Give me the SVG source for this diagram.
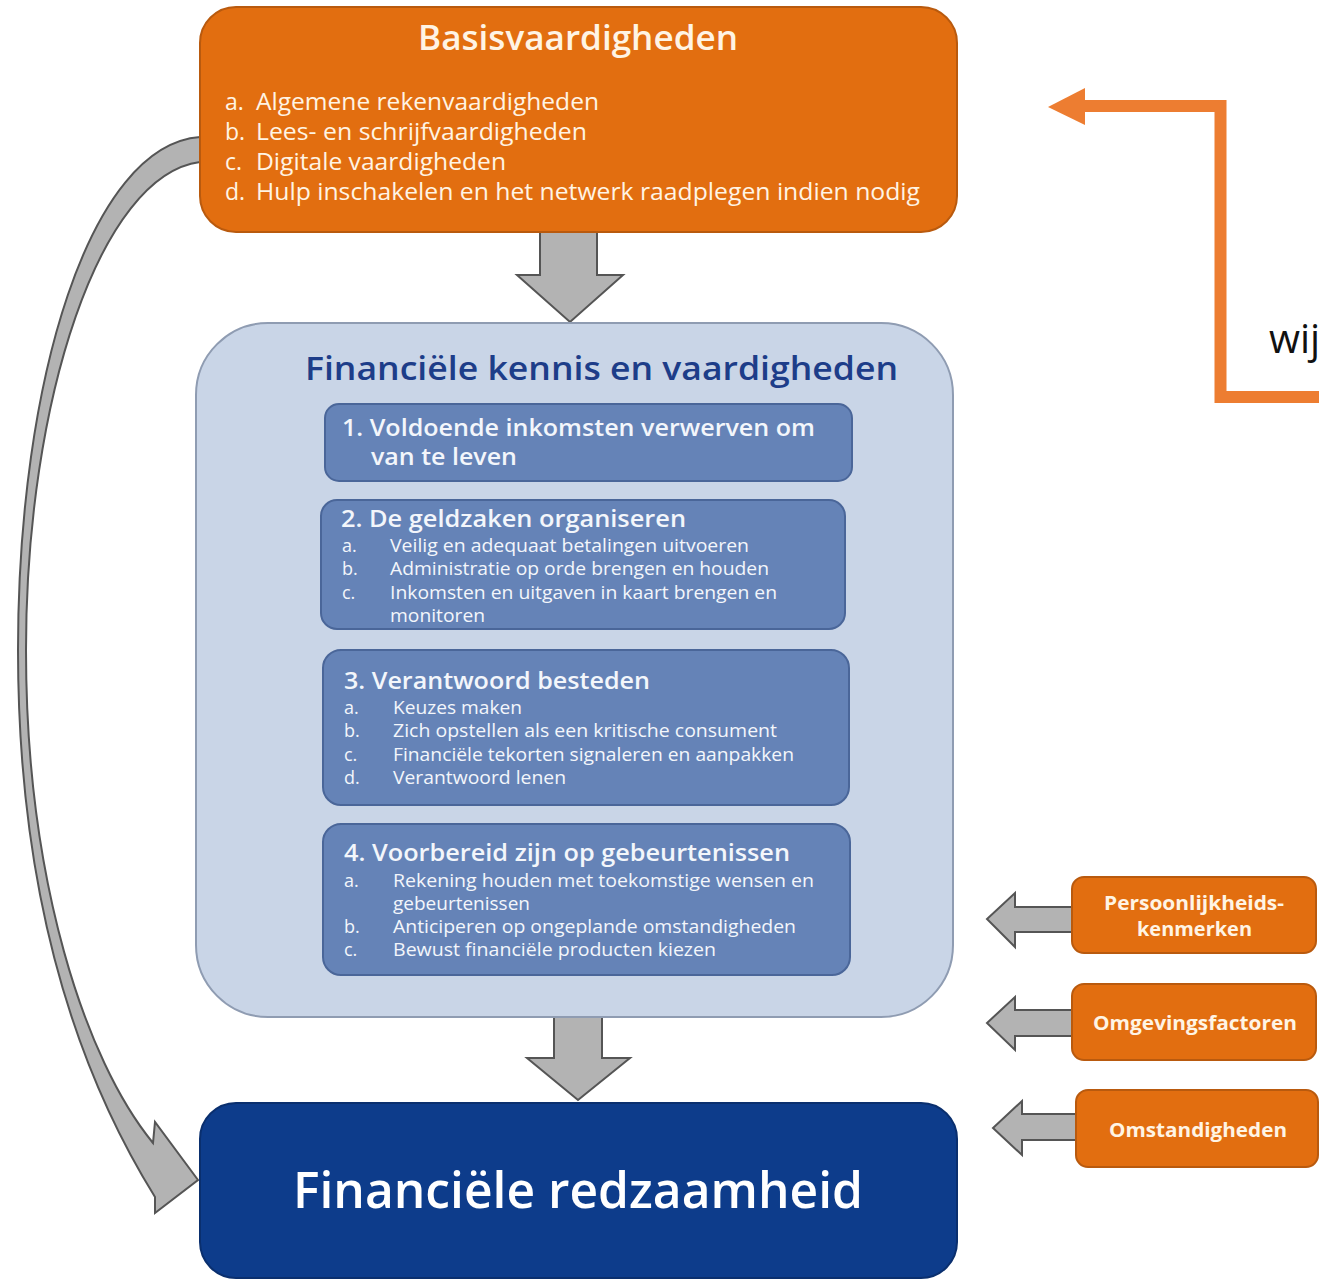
<svg xmlns="http://www.w3.org/2000/svg" width="1319" height="1280" viewBox="0 0 1319 1280">
<style>
.orange{fill:#E26E10;stroke:#B95A0E;stroke-width:2}
.cont{fill:#C9D5E7;stroke:#8F9CB2;stroke-width:2}
.inner{fill:#6583B7;stroke:#4A6699;stroke-width:2}
.dark{fill:#0D3C8B;stroke:#0A2F6E;stroke-width:2}
.garrow{fill:#B3B3B3;stroke:#555555;stroke-width:2;stroke-linejoin:miter}
.t{font-family:"Open Sans","DejaVu Sans",sans-serif}
.wt{fill:#FFF4E4}
.bt{fill:#F3F6FB}
</style>
<g id="connectors">
<path class="garrow" fill="#A8A8A8" d="M200 137 C90 145 18 380 18 650 C18 880 70 1060 155 1197 L155 1213 L198 1180 L155 1122 L153 1143 C85 1060 26 880 26 650 C26 400 100 175 200 162 Z"/>
<path class="garrow" d="M540 232 L597 232 L597 275 L623 275 L570 322 L517 275 L540 275 Z"/>
<path class="garrow" d="M554 1015 L602 1015 L602 1058 L630 1058 L578 1100 L527 1058 L554 1058 Z"/>
<path class="garrow" d="M1072 907 L1015 907 L1015 893 L987 919 L1015 947 L1015 932 L1072 932 Z"/>
<path class="garrow" d="M1072 1010 L1015 1010 L1015 997 L987 1023 L1015 1050 L1015 1036 L1072 1036 Z"/>
<path class="garrow" d="M1076 1114 L1022 1114 L1022 1101 L993 1128 L1022 1155 L1022 1140 L1076 1140 Z"/>
<path d="M1319 397 L1220.5 397 L1220.5 106 L1085 106" fill="none" stroke="#ED7D31" stroke-width="12"/>
<path d="M1085 88 L1048 107 L1085 125 Z" fill="#ED7D31"/>
</g>
<g id="basisvaardigheden">
<rect class="orange" x="200" y="7" width="757" height="225" rx="36"/>
<text class="t wt" x="418" y="50" font-size="34" font-weight="600" textLength="320" lengthAdjust="spacingAndGlyphs">Basisvaardigheden</text>
<g class="t wt" font-size="23">
<text x="225" y="110">a.</text><text x="256" y="110" textLength="343" lengthAdjust="spacingAndGlyphs">Algemene rekenvaardigheden</text>
<text x="225" y="140">b.</text><text x="256" y="140" textLength="331" lengthAdjust="spacingAndGlyphs">Lees- en schrijfvaardigheden</text>
<text x="225" y="170">c.</text><text x="256" y="170" textLength="250" lengthAdjust="spacingAndGlyphs">Digitale vaardigheden</text>
<text x="225" y="200">d.</text><text x="256" y="200" textLength="664" lengthAdjust="spacingAndGlyphs">Hulp inschakelen en het netwerk raadplegen indien nodig</text>
</g>
</g>
<g id="financiele-kennis">
<rect class="cont" x="196" y="323" width="757" height="694" rx="72"/>
<text class="t" x="305" y="380" font-size="33" font-weight="600" fill="#1D3D89" textLength="593" lengthAdjust="spacingAndGlyphs">Financiële kennis en vaardigheden</text>
</g>
<g id="box1">
<rect class="inner" x="325" y="404" width="527" height="77" rx="14"/>
<g class="t bt" font-size="23" font-weight="600">
<text x="342" y="436" textLength="473" lengthAdjust="spacingAndGlyphs">1. Voldoende inkomsten verwerven om</text>
<text x="371" y="465" textLength="146" lengthAdjust="spacingAndGlyphs">van te leven</text>
</g>
</g>
<g id="box2">
<rect class="inner" x="321" y="500" width="524" height="129" rx="16"/>
<text class="t bt" x="341" y="527" font-size="23" font-weight="600" textLength="345" lengthAdjust="spacingAndGlyphs">2. De geldzaken organiseren</text>
<g class="t bt" font-size="18">
<text x="342" y="552">a.</text><text x="390" y="552" textLength="359" lengthAdjust="spacingAndGlyphs">Veilig en adequaat betalingen uitvoeren</text>
<text x="342" y="575">b.</text><text x="390" y="575" textLength="379" lengthAdjust="spacingAndGlyphs">Administratie op orde brengen en houden</text>
<text x="342" y="599">c.</text><text x="390" y="599" textLength="387" lengthAdjust="spacingAndGlyphs">Inkomsten en uitgaven in kaart brengen en</text>
<text x="390" y="622" textLength="95" lengthAdjust="spacingAndGlyphs">monitoren</text>
</g>
</g>
<g id="box3">
<rect class="inner" x="323" y="650" width="526" height="155" rx="18"/>
<text class="t bt" x="344" y="689" font-size="23" font-weight="600" textLength="306" lengthAdjust="spacingAndGlyphs">3. Verantwoord besteden</text>
<g class="t bt" font-size="18">
<text x="344" y="714">a.</text><text x="393" y="714" textLength="129" lengthAdjust="spacingAndGlyphs">Keuzes maken</text>
<text x="344" y="737">b.</text><text x="393" y="737" textLength="384" lengthAdjust="spacingAndGlyphs">Zich opstellen als een kritische consument</text>
<text x="344" y="761">c.</text><text x="393" y="761" textLength="401" lengthAdjust="spacingAndGlyphs">Financiële tekorten signaleren en aanpakken</text>
<text x="344" y="784">d.</text><text x="393" y="784" textLength="173" lengthAdjust="spacingAndGlyphs">Verantwoord lenen</text>
</g>
</g>
<g id="box4">
<rect class="inner" x="323" y="824" width="527" height="151" rx="18"/>
<text class="t bt" x="344" y="861" font-size="23" font-weight="600" textLength="446" lengthAdjust="spacingAndGlyphs">4. Voorbereid zijn op gebeurtenissen</text>
<g class="t bt" font-size="18">
<text x="344" y="887">a.</text><text x="393" y="887" textLength="421" lengthAdjust="spacingAndGlyphs">Rekening houden met toekomstige wensen en</text>
<text x="393" y="910" textLength="137" lengthAdjust="spacingAndGlyphs">gebeurtenissen</text>
<text x="344" y="933">b.</text><text x="393" y="933" textLength="403" lengthAdjust="spacingAndGlyphs">Anticiperen op ongeplande omstandigheden</text>
<text x="344" y="956">c.</text><text x="393" y="956" textLength="323" lengthAdjust="spacingAndGlyphs">Bewust financiële producten kiezen</text>
</g>
</g>
<g id="redzaamheid">
<rect class="dark" x="200" y="1103" width="757" height="175" rx="36"/>
<text class="t" x="293" y="1208" font-size="50" font-weight="600" fill="#FFFFFF" textLength="570" lengthAdjust="spacingAndGlyphs">Financiële redzaamheid</text>
</g>
<g id="persoonlijkheid">
<rect class="orange" x="1072" y="877" width="244" height="76" rx="12"/>
<g class="t wt" font-size="20" font-weight="700">
<text x="1104" y="910" textLength="180" lengthAdjust="spacingAndGlyphs">Persoonlijkheids-</text>
<text x="1137" y="936" textLength="115" lengthAdjust="spacingAndGlyphs">kenmerken</text>
</g>
</g>
<g id="omgeving">
<rect class="orange" x="1072" y="984" width="244" height="76" rx="12"/>
<text class="t wt" x="1093" y="1030" font-size="20" font-weight="700" textLength="204" lengthAdjust="spacingAndGlyphs">Omgevingsfactoren</text>
</g>
<g id="omstandigheden">
<rect class="orange" x="1076" y="1090" width="242" height="77" rx="12"/>
<text class="t wt" x="1109" y="1137" font-size="20" font-weight="700" textLength="178" lengthAdjust="spacingAndGlyphs">Omstandigheden</text>
</g>
<g id="wij-label">
<text class="t" x="1269" y="353" font-size="40" fill="#111111">wij</text>
</g>
</svg>
